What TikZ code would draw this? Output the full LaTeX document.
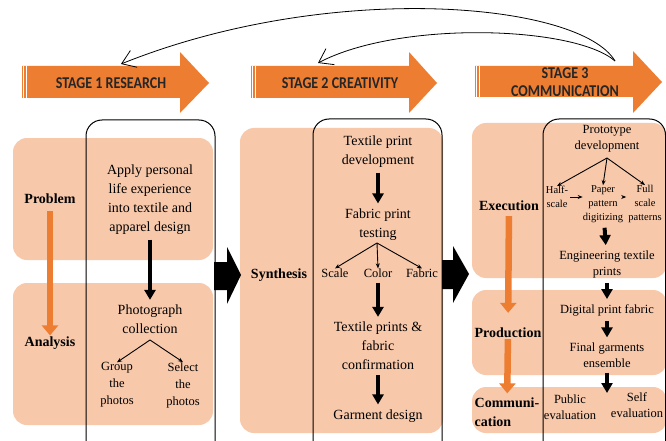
\documentclass[tikz,border=0pt]{standalone}
\usepackage{fontspec}
\setmainfont{Liberation Serif}
\newfontfamily\stagefont[FakeStretch=0.85]{Carlito}
\usetikzlibrary{arrows.meta}
\definecolor{stageorange}{HTML}{ED7D31}
\definecolor{salmon}{HTML}{F7C8AA}

\tikzset{
  bgbox/.style={fill=salmon, rounded corners=14pt},
  colframe/.style={draw=black, line width=1pt, rounded corners=16pt},
  stagetxt/.style={align=center, inner sep=0pt, text=black!85, font=\stagefont\bfseries\fontsize{16.5}{18}\selectfont},
  lbl/.style={inner sep=0pt, font=\rmfamily\bfseries\fontsize{14}{19}\selectfont},
  txt/.style={align=center, inner sep=0pt, font=\rmfamily\fontsize{14}{19}\selectfont},
  txtb/.style={align=center, inner sep=0pt, font=\rmfamily\fontsize{14}{19}\selectfont},
  txtc/.style={align=center, inner sep=0pt, font=\rmfamily\fontsize{12.5}{16}\selectfont},
  smalltxt/.style={align=center, inner sep=0pt, font=\rmfamily\fontsize{12.5}{17}\selectfont},
  tinytxt/.style={align=center, inner sep=0pt, font=\rmfamily\fontsize{10.5}{14}\selectfont},
  flow/.style={line width=4pt, -{Triangle[width=11pt,length=10pt]}, shorten <=5pt, shorten >=5pt},
  orangeflow/.style={draw=stageorange, line width=6.5pt, -{Triangle[width=16pt,length=10pt]}},
  branch/.style={line width=0.9pt, -{Stealth[length=5pt,width=4pt]}},
  backarrow/.style={line width=0.8pt, -{Straight Barb[length=13pt,width=18pt]}}
}

\begin{document}
\begin{tikzpicture}[x=1pt, y=-1pt]
    \clip (0,0) rectangle (666,441);

    % Stage 1 - Research
    \begin{scope}[shift={(22,0)}]
      \fill[stageorange] (0,66) -- (158,66) -- (158,52) -- (187,83) -- (158,113) -- (158,98) -- (0,98) -- cycle;
      \draw[white, line width=0.7pt] (1.7,66) -- (1.7,98) (4,66) -- (4,98);
      \node[stagetxt] (stageA) at (89,83) {STAGE 1 RESEARCH};
    \end{scope}

    % Stage 2 - Creativity
    \begin{scope}[shift={(251,0)}]
      \fill[stageorange] (0,66) -- (158,66) -- (158,52) -- (186,83) -- (158,113) -- (158,98) -- (0,98) -- cycle;
      \draw[white, line width=0.7pt] (1.7,66) -- (1.7,98) (4,66) -- (4,98);
      \node[stagetxt] (stageB) at (89,83) {STAGE 2 CREATIVITY};
    \end{scope}

    % Stage 3 - Communication
    \begin{scope}[shift={(475,0)}]
      \fill[stageorange] (0,66) -- (158,66) -- (158,51) -- (187,82) -- (158,113) -- (158,97) -- (0,97) -- cycle;
      \draw[white, line width=0.7pt] (1.7,66) -- (1.7,97) (4,66) -- (4,97);
      \node[stagetxt] (stageC) at (90,82) {STAGE 3\\COMMUNICATION};
    \end{scope}

    % feedback arcs
    \coordinate (back) at (615,61);
    \coordinate (inA) at (121,64);
    \coordinate (inB) at (318,63);
    \draw[backarrow] (back) .. controls (580,2) and (330,-20) .. (inA);
    \draw[backarrow] (back) .. controls (575,26) and (400,20) .. (inB);

    % Column 1 - Problem / Analysis
    \fill[bgbox] (13,138) rectangle (213,260);
    \fill[bgbox] (13,283) rectangle (213,425);
    \draw[colframe] (86,120) rectangle (215,470);
    \node[lbl] (problem) at (50,199) {Problem};
    \node[lbl] (analysis) at (50,343) {Analysis};
    \draw[orangeflow, shorten <=7pt, shorten >=1pt] (problem) -- (analysis);
    \node[txt] (apply) at (150,199.5) {Apply personal\\life experience\\into textile and\\apparel design};
    \node[txt] (photo) at (150,319.5) {Photograph\\collection};
    \node[smalltxt] (group) at (117,385) {Group\\the\\photos};
    \node[smalltxt] (select) at (183,385) {Select\\the\\photos};
    \coordinate (forkA) at (150,340);
    \draw[flow] (apply) -- (photo);
    \draw[branch] (forkA) -- (group.north);
    \draw[branch] (forkA) -- (select.north);

    % Column 2 - Synthesis
    \fill[bgbox] (240,128) rectangle (443,433);
    \draw[colframe] (313,119) rectangle (442,470);
    \node[lbl] (synthesis) at (279,275) {Synthesis};
    \node[txtb] (tpd) at (378,151.5) {Textile print\\development};
    \node[txtb] (fpt) at (378,224.5) {Fabric print\\testing};
    \node[smalltxt] (scale) at (335,273) {Scale};
    \node[smalltxt] (color) at (378,273) {Color};
    \node[smalltxt] (fabric) at (422,273) {Fabric};
    \node[txtb] (tpf) at (378,346) {Textile prints \&\\fabric\\confirmation};
    \node[txtb] (garment) at (378,416) {Garment design};
    \coordinate (forkB) at (377,243);
    \draw[flow] (tpd) -- (fpt);
    \draw[branch] (forkB) -- (scale.north);
    \draw[branch] (forkB) -- (color.north);
    \draw[branch] (forkB) -- (fabric.north);
    \draw[flow] (color) -- (tpf);
    \draw[flow] (tpf) -- (garment);

    % Column 3 - Execution / Production / Communication
    \fill[bgbox] (472,123) rectangle (667,278);
    \fill[bgbox] (472,290) rectangle (667,375);
    \fill[bgbox] (472,387) rectangle (667,433);
    \draw[colframe] (543,119) rectangle (665.5,470);
    \node[lbl] (execution) at (509,206) {Execution};
    \node[lbl] (production) at (508,333) {Production};
    \node[lbl, align=left] (communication) at (507,412) {Communi-\\cation};
    \draw[orangeflow, shorten <=5pt, shorten >=15pt] (execution) -- (production);
    \draw[orangeflow, shorten <=1pt, shorten >=4pt] (production) -- (communication);
    \node[txtc] (proto) at (607,139) {Prototype\\development};
    \node[tinytxt] (half) at (557,197) {Half-\\scale};
    \node[tinytxt] (paper) at (603,204) {Paper\\pattern\\digitizing};
    \node[tinytxt] (full) at (645,204) {Full\\scale\\patterns};
    \node[txtc] (eng) at (607,264) {Engineering textile\\prints};
    \node[txtc] (digital) at (607,310) {Digital print fabric};
    \node[txtc] (final) at (607,355) {Final garments\\ensemble};
    \node[txtc] (public) at (570,407) {Public\\evaluation};
    \node[txtc] (self) at (637,405) {Self\\evaluation};
    \coordinate (forkC) at (607,158);
    \coordinate (evalpt) at (607,393);
    \draw[branch] (forkC) -- (half.north);
    \draw[branch] (forkC) -- (paper.north);
    \draw[branch] (forkC) -- (full.north);
    \draw[branch, shorten <=2pt] (half.east) -- (half.east -| paper.west);
    \draw[branch, shorten >=2pt] (paper.east |- half.east) -- (half.east -| full.west);
    \draw[flow] (paper) -- (eng);
    \draw[flow] (eng) -- (digital);
    \draw[flow] (digital) -- (final);
    \draw[flow, shorten >=0pt] (final) -- (evalpt);

    % big arrows between the columns
    \fill[black] (214,262) -- (227,262) -- (227,247) -- (241,275) -- (227,304) -- (227,290) -- (214,290) -- cycle;
    \fill[black] (442,260) -- (453,260) -- (453,246) -- (469,274) -- (453,303) -- (453,289) -- (442,289) -- cycle;

  \end{tikzpicture}
\end{document}
